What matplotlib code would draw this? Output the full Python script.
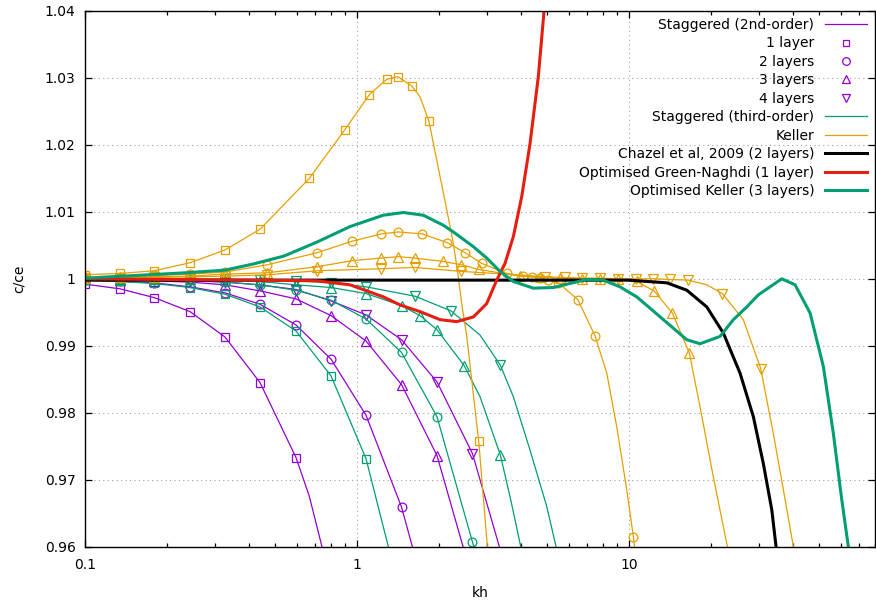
import matplotlib
matplotlib.use("Agg")
import matplotlib.pyplot as plt
from matplotlib.lines import Line2D
from matplotlib.ticker import FixedLocator, LogLocator, NullFormatter
import numpy as np

# colours (gnuplot default palette)
PURPLE = "#9400d3"
GREEN = "#009e73"
ORANGE = "#e69f00"
RED = "#e51e10"
BLACK = "#000000"

# common marker positions (kh) of the layered curves
K = [0.1, 0.1342, 0.1789, 0.2427, 0.3263, 0.4388, 0.5952, 0.8006, 1.077, 1.454, 1.963, 2.65]

# ---------------- Staggered (2nd-order), purple ----------------
p1_kh = K[:7]
p1_c = [0.9992, 0.9985, 0.9972, 0.9951, 0.9913, 0.9845, 0.9733]
p1_extra = [(0.6662, 0.9675), (0.7413, 0.96)]

p2_kh = K[:10]
p2_c = [0.9998, 0.9996, 0.9994, 0.9988, 0.9979, 0.9962, 0.9931, 0.9880, 0.9796, 0.9659]
p2_extra = [(1.593, 0.96)]

p3_kh = K[:11]
p3_c = [0.9999, 0.9998, 0.9997, 0.9995, 0.9991, 0.9982, 0.9970, 0.9945, 0.9907, 0.9842, 0.9736]
p3_extra = [(2.447, 0.96)]

p4_kh = K[:12]
p4_c = [0.9999, 0.9999, 0.9998, 0.9997, 0.9995, 0.9991, 0.9984, 0.9967, 0.9946, 0.9909, 0.9846, 0.9739]
p4_extra = [(3.327, 0.96)]

# ---------------- Staggered (third-order), green ----------------
g1_kh = K[:9]
g1_c = [0.9998, 0.9996, 0.9993, 0.9987, 0.9977, 0.9958, 0.9922, 0.9855, 0.9731]
g1_extra = [(1.30, 0.96)]

g2_kh = K[:12]
g2_c = [1.0, 0.9999, 0.9999, 0.9998, 0.9995, 0.9991, 0.9983, 0.9968, 0.9940, 0.9890, 0.9794, 0.9607]
g2_extra = [(2.268, 0.9704), (2.68, 0.96)]

g3_kh = [0.1, 0.1342, 0.1789, 0.2427, 0.3263, 0.4388, 0.5952, 0.8006, 1.077, 1.454, 1.700, 1.963, 2.474, 3.355]
g3_c = [1.0, 1.0, 0.9999, 0.9999, 0.9998, 0.9996, 0.9991, 0.9987, 0.9978, 0.9960, 0.9945, 0.9924, 0.9870, 0.9737]
g3_extra = [(2.825, 0.9824), (3.664, 0.9670), (3.988, 0.96)]

g4_kh = [0.1, 0.1342, 0.1789, 0.2427, 0.3263, 0.4388, 0.5952, 0.8006, 1.077, 1.630, 2.211, 3.355]
g4_c = [1.0, 1.0, 1.0, 0.9999, 0.9999, 0.9998, 0.9997, 0.9994, 0.9988, 0.9974, 0.9952, 0.9871]
g4_extra = [(2.825, 0.9916), (3.746, 0.9824), (4.315, 0.9744), (4.97, 0.9660), (5.377, 0.96)]

# ---------------- Keller, orange ----------------
o1_kh = [0.1, 0.1342, 0.1789, 0.2427, 0.3263, 0.4388, 0.6662, 0.9012, 1.1069, 1.2828, 1.4078,
         1.585, 1.8346, 2.795]
o1_c = [1.0006, 1.0008, 1.0012, 1.0024, 1.0043, 1.0074, 1.0150, 1.0223, 1.0275, 1.0298, 1.0302,
        1.0288, 1.0235, 0.9757]
o1_extra = [(1.700, 1.0272), (1.959, 1.0177), (2.132, 1.0103), (2.254, 1.0053), (2.351, 1.0003),
            (2.420, 0.9963), (2.525, 0.9914), (3.006, 0.96)]

o2_kh = [0.1, 0.1342, 0.1789, 0.2427, 0.3263, 0.4665, 0.7121, 0.9537, 1.2223, 1.4149, 1.7338,
         2.142, 2.489, 2.867, 3.543, 4.077, 4.377, 4.695, 5.038, 5.483, 6.462, 7.478, 10.345]
o2_c = [1.0002, 1.0003, 1.0005, 1.0007, 1.0010, 1.0021, 1.0039, 1.0056, 1.0067, 1.0070, 1.0067,
        1.0054, 1.0039, 1.0023, 1.0008, 1.0004, 1.0003, 1.0001, 0.9998, 0.9994, 0.9969, 0.9915, 0.9615]
o2_extra = [(8.26, 0.9859), (8.99, 0.9779), (9.78, 0.9685), (10.45, 0.96)]

o3_kh = [0.1, 0.1342, 0.1789, 0.2427, 0.3263, 0.4665, 0.7121, 0.9537, 1.2223, 1.4149, 1.6255,
         2.061, 2.4128, 2.79, 3.963, 4.695, 5.562, 6.70, 7.80, 9.09, 10.647, 12.32, 14.39, 16.62]
o3_c = [1.0001, 1.0002, 1.0003, 1.0004, 1.0007, 1.0009, 1.0018, 1.0027, 1.0031, 1.0033, 1.0031,
        1.0026, 1.0021, 1.0014, 1.0004, 1.0002, 1.0001, 1.0000, 1.0000, 0.9999, 0.9996, 0.9982,
        0.9949, 0.9889]
o3_extra = [(18.19, 0.9809), (20.36, 0.9704), (22.93, 0.96)]

o4_kh = [0.1, 0.1342, 0.1789, 0.2427, 0.3263, 0.4665, 0.7121, 1.2223, 1.6255, 2.4128, 4.898,
         5.80, 6.70, 7.80, 9.09, 10.58, 12.25, 14.11, 16.48, 21.97, 30.41]
o4_c = [1.0001, 1.0001, 1.0002, 1.0003, 1.0004, 1.0006, 1.0012, 1.0015, 1.0017, 1.0011, 1.0003,
        1.0002, 1.0001, 1.0001, 1.0000, 1.0000, 1.0000, 0.9999, 0.9998, 0.9978, 0.9866]
o4_extra = [(3.543, 1.0007), (19.26, 0.9991), (26.24, 0.9939), (33.83, 0.9769), (36.83, 0.9685),
            (40.09, 0.96)]

# ---------------- thick reference curves ----------------
chazel_kh = [0.1, 1.0, 9.915, 13.73, 16.26, 19.26, 22.16, 25.53, 28.57, 31.09, 33.39, 34.62]
chazel_c = [0.9998, 0.9998, 0.9998, 0.9994, 0.9983, 0.9958, 0.9919, 0.9859, 0.9794, 0.9724, 0.9655, 0.96]

gn_kh = [0.1, 0.4033, 0.7090, 0.9402, 1.2464, 1.4355, 1.700, 2.014, 2.320, 2.670, 2.990, 3.254,
         3.491, 3.746, 4.022, 4.315, 4.628, 4.858]
gn_c = [1.0, 0.9998, 0.9997, 0.9991, 0.9973, 0.9961, 0.9951, 0.9939, 0.9936, 0.9943, 0.9963, 0.9998,
        1.0023, 1.0063, 1.0123, 1.0202, 1.0302, 1.04]

ok_kh = [0.1, 0.2346, 0.3263, 0.4135, 0.5376, 0.7121, 0.9402, 1.2464, 1.476, 1.748, 2.071, 2.254,
         2.670, 2.990, 3.347, 3.746, 4.436, 5.255, 6.053, 6.97, 8.026, 9.24, 10.647, 11.92, 13.34,
         16.26, 18.19, 21.56, 24.13, 27.02, 29.8, 32.91, 36.34, 40.67, 46.17, 51.67, 56.23, 60.38,
         63.84]
ok_c = [1.0001, 1.0009, 1.0013, 1.0022, 1.0034, 1.0055, 1.0078, 1.0095, 1.0099, 1.0095, 1.0080,
        1.0070, 1.0048, 1.0031, 1.0011, 0.9996, 0.9986, 0.9987, 0.9993, 0.9999, 0.9998, 0.9988,
        0.9973, 0.9956, 0.9939, 0.9909, 0.9903, 0.9914, 0.9939, 0.9958, 0.9976, 0.9988, 1.0000,
        0.9991, 0.9949, 0.9869, 0.9769, 0.9670, 0.96]

labels = ["Staggered (2nd-order)", "1 layer", "2 layers", "3 layers", "4 layers",
          "Staggered (third-order)", "Keller", "Chazel et al, 2009 (2 layers)",
          "Optimised Green-Naghdi (1 layer)", "Optimised Keller (3 layers)"]

MARKERS = {"s": 5.8, "o": 6.3, "^": 6.5, "v": 6.5}


def layered(ax, kh, c, extra, color, marker):
    # line goes through the marker points and a few extra points
    pts = sorted(list(zip(kh, c)) + list(extra))
    ax.plot([p[0] for p in pts], [p[1] for p in pts], color=color, lw=0.9)
    ax.plot(kh, c, linestyle="none", marker=marker, ms=MARKERS[marker],
            mfc="none", mec=color, mew=0.9)


fig = plt.figure(figsize=(8.76, 6.0), dpi=100)
ax = fig.add_axes([85.3 / 876, 1 - 546.6 / 600, (875 - 85.3) / 876, (546.6 - 11) / 600])

layered(ax, p1_kh, p1_c, p1_extra, PURPLE, "s")
layered(ax, p2_kh, p2_c, p2_extra, PURPLE, "o")
layered(ax, p3_kh, p3_c, p3_extra, PURPLE, "^")
layered(ax, p4_kh, p4_c, p4_extra, PURPLE, "v")

layered(ax, g1_kh, g1_c, g1_extra, GREEN, "s")
layered(ax, g2_kh, g2_c, g2_extra, GREEN, "o")
layered(ax, g3_kh, g3_c, g3_extra, GREEN, "^")
layered(ax, g4_kh, g4_c, g4_extra, GREEN, "v")

layered(ax, o1_kh, o1_c, o1_extra, ORANGE, "s")
layered(ax, o2_kh, o2_c, o2_extra, ORANGE, "o")
layered(ax, o3_kh, o3_c, o3_extra, ORANGE, "^")
layered(ax, o4_kh, o4_c, o4_extra, ORANGE, "v")

ax.plot(chazel_kh, chazel_c, color=BLACK, lw=2.2)
ax.plot(gn_kh, gn_c, color=RED, lw=2.2)
ax.plot(ok_kh, ok_c, color=GREEN, lw=2.2)

ax.set_xscale("log")
ax.set_xlim(0.1, 80)
ax.set_ylim(0.96, 1.04)

yt = [0.96, 0.97, 0.98, 0.99, 1.0, 1.01, 1.02, 1.03, 1.04]
ax.yaxis.set_major_locator(FixedLocator(yt))
ax.set_yticklabels(["%g" % v for v in yt])
ax.xaxis.set_major_locator(FixedLocator([0.1, 1, 10]))
ax.set_xticklabels(["0.1", "1", "10"])
ax.xaxis.set_minor_locator(LogLocator(base=10, subs=np.arange(2, 10)))
ax.xaxis.set_minor_formatter(NullFormatter())

ax.tick_params(which="both", direction="in", top=True, right=True, labelsize=10, width=0.9)
ax.tick_params(which="major", length=5, pad=7)
ax.tick_params(which="minor", length=3)
ax.tick_params(axis="x", which="major", pad=8)
for s in ax.spines.values():
    s.set_linewidth(1.0)

ax.grid(True, which="major", color="#a0a0a0", linestyle=(0, (1, 3)), lw=0.8)

ax.set_xlabel("kh", fontsize=10, labelpad=10)
ax.set_ylabel("c/ce", fontsize=10, labelpad=14)

handles = [
    Line2D([], [], color=PURPLE, lw=0.9),
    Line2D([], [], ls="none", marker="s", ms=5, mfc="none", mec=PURPLE, mew=0.9),
    Line2D([], [], ls="none", marker="o", ms=5.5, mfc="none", mec=PURPLE, mew=0.9),
    Line2D([], [], ls="none", marker="^", ms=5.5, mfc="none", mec=PURPLE, mew=0.9),
    Line2D([], [], ls="none", marker="v", ms=5.5, mfc="none", mec=PURPLE, mew=0.9),
    Line2D([], [], color=GREEN, lw=0.9),
    Line2D([], [], color=ORANGE, lw=0.9),
    Line2D([], [], color=BLACK, lw=2.2),
    Line2D([], [], color=RED, lw=2.2),
    Line2D([], [], color=GREEN, lw=2.2),
]
leg = ax.legend(handles, labels, loc="upper right", bbox_to_anchor=(867 / 876, 1 - 18 / 600),
                bbox_transform=fig.transFigure, frameon=False, markerfirst=False,
                handlelength=3.0, handletextpad=0.8, labelspacing=0.32, borderpad=0,
                borderaxespad=0, fontsize=10, numpoints=1)

fig.savefig("out.png", dpi=100)
